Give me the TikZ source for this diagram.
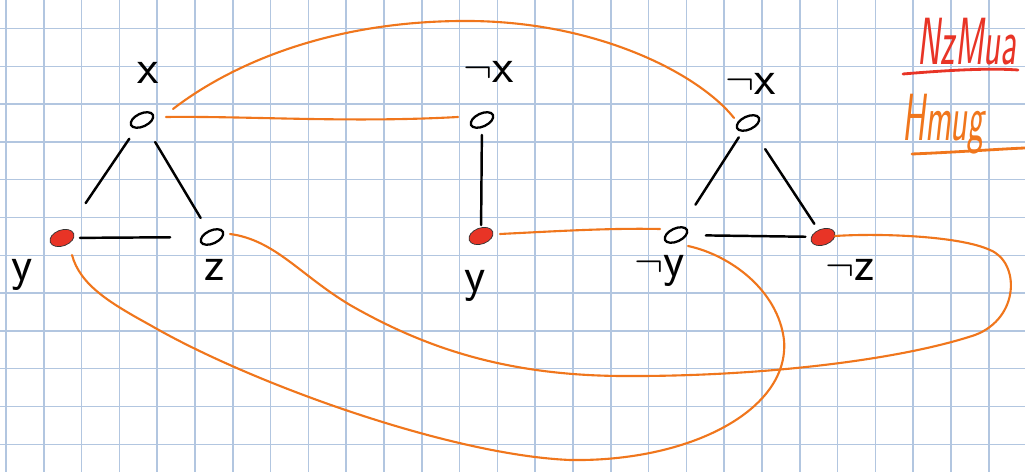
\documentclass[tikz,border=0pt]{standalone}
\usepackage{graphicx}
\usetikzlibrary{shapes.geometric}
\definecolor{gridc}{RGB}{178,198,224}
\definecolor{orn}{RGB}{240,118,28}
\definecolor{rd}{RGB}{232,52,38}
\tikzset{
  emptyv/.style={ellipse,draw=black,line width=1.3pt,minimum width=0.48cm,minimum height=0.26cm,inner sep=0pt,rotate=25},
  truev/.style={ellipse,fill=rd,draw=black!80,line width=0.4pt,minimum width=0.5cm,minimum height=0.32cm,inner sep=0pt,rotate=20},
  lbl/.style={font=\fontsize{28}{30}\selectfont\sffamily,inner sep=0pt},
  blk/.style={line width=1.4pt,line cap=round},
  orl/.style={orn,line width=1.2pt,line cap=round},
  hand/.style={font=\fontsize{38}{40}\selectfont\sffamily\itshape,inner sep=0pt},
}
\begin{document}
\begin{tikzpicture}[x=0.02cm,y=-0.02cm]
\useasboundingbox (0,0) rectangle (1025,472);
\fill[white] (0,0) rectangle (1025,472);
% grid
\foreach \i in {0,...,26} \draw[gridc,line width=0.85pt] ({6+37.8*\i},0) -- ({6+37.8*\i},472);
\foreach \k in {0,...,11} \draw[gridc,line width=0.85pt] (0,{28.5+37.8*\k}) -- (1025,{28.5+37.8*\k});

% vertices
\node[emptyv] (x1) at (142,120) {};
\node[truev]  (y1) at (62,238) {};
\node[emptyv] (z1) at (212,237) {};
\node[emptyv] (nx2) at (482,120) {};
\node[truev]  (y2) at (481,236) {};
\node[emptyv] (nx3) at (748,123) {};
\node[emptyv] (ny3) at (676,235) {};
\node[truev]  (nz3) at (823,237) {};

% labels
\node[lbl] (lx1) at (148,73) {x};
\node[lbl] (ly1) at (22,275) {y};
\node[lbl] (lz1) at (215,270) {z};
\node[lbl] (lnx2) at (489,72) {$\neg$x};
\node[lbl] (ly2) at (475,286) {y};
\node[lbl] (lnx3) at (751,84) {$\neg$x};
\node[lbl] (lny3) at (660,271) {$\neg$y};
\node[lbl] (lnz3) at (850,270) {$\neg$z};

% black edges
\draw[blk,shorten <=12.9pt,shorten >=24pt] (x1.center) -- (y1.center);
\draw[blk,shorten <=14.6pt,shorten >=12.6pt] (x1.center) -- (z1.center);
\draw[blk,shorten <=10.2pt,shorten >=23.8pt] (y1.center) -- (z1.center);
\draw[blk,shorten <=8.5pt,shorten >=6.2pt] (nx2.center) -- (y2.center);
\draw[blk,shorten <=9.7pt,shorten >=20.5pt] (nx3.center) -- (ny3.center);
\draw[blk,shorten <=17.8pt,shorten >=9pt] (nx3.center) -- (nz3.center);
\draw[blk,shorten <=17pt,shorten >=10pt] (ny3.center) -- (nz3.center);

% orange edges
\draw[orl] ([shift={(31,-11)}]x1.center) .. controls (230,65) and (330,20) .. (470,21)
  .. controls (600,22) and (700,75) .. ([shift={(-14,-5)}]nx3.center);
\draw[orl] ([shift={(24,-3)}]x1.center) .. controls (250,116) and (350,123) .. ([shift={(-24,-3)}]nx2.center);
\draw[orl] ([shift={(10,17)}]y1.center) .. controls (80,285) and (110,303) .. (150,325)
  .. controls (250,383) and (450,455) .. (570,460)
  .. controls (690,462) and (790,410) .. (784,340)
  .. controls (778,290) and (730,255) .. ([shift={(12,11)}]ny3.center);
\draw[orl] ([shift={(18,-3)}]z1.center) .. controls (275,240) and (300,275) .. (350,305)
  .. controls (420,345) and (500,375) .. (620,376)
  .. controls (760,377) and (900,360) .. (975,335)
  .. controls (1020,318) and (1020,262) .. (990,250)
  .. controls (960,236) and (880,233) .. ([shift={(12,-1)}]nz3.center);
\draw[orl] ([shift={(19,-2)}]y2.center) .. controls (560,231) and (610,228) .. ([shift={(-16,-6)}]ny3.center);

% legend words
\node[hand,text=rd] (tw) at (967,42) {\scalebox{0.52}[1]{NzMua}};
\draw[rd,line width=1.6pt,line cap=round] (903,74) .. controls (950,70) and (990,68) .. (1018,70);
\node[hand,text=orn] (fw) at (943,124) {\scalebox{0.52}[1]{Hmug}};
\draw[orn,line width=1.6pt,line cap=round] (912,154) .. controls (960,152) and (1000,149) .. (1025,148);
\end{tikzpicture}
\end{document}
